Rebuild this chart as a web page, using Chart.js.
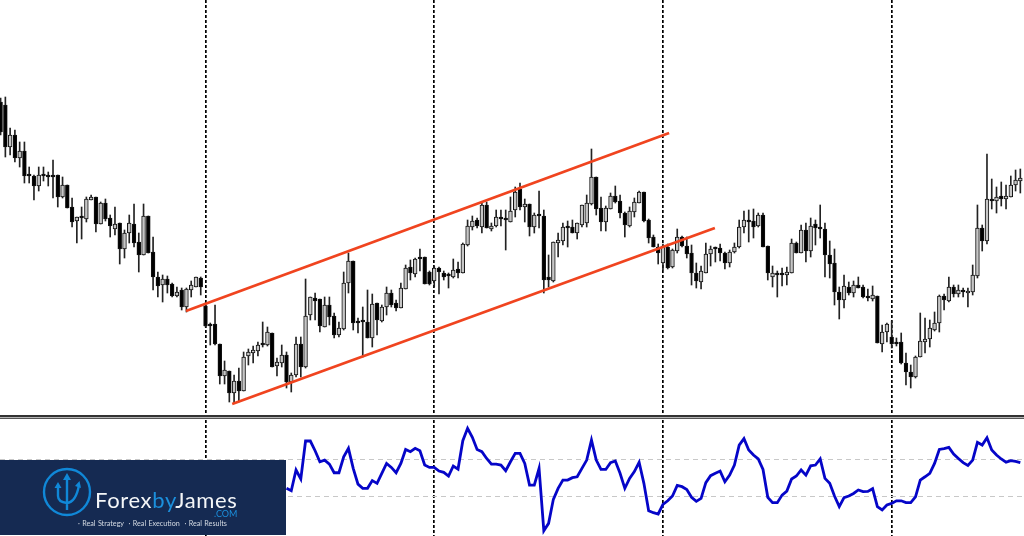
<!DOCTYPE html>
<html>
<head>
<meta charset="utf-8">
<title>ForexbyJames channel</title>
<script src="https://cdn.jsdelivr.net/npm/chart.js@4"></script>
<style>
  html, body { margin: 0; padding: 0; background: #fff; }
  #wrap { position: relative; width: 1024px; height: 536px; overflow: hidden; }
  #priceChart { position: absolute; left: 0; top: 0; filter: blur(0.6px); }
  .divider { position: absolute; left: 0; width: 1024px; }
  #logo { position: absolute; left: 0; top: 460px; width: 286px; height: 75px; background: #152a52; font-family: Lato, sans-serif; filter: blur(0.25px); }
  #logo svg { position: absolute; left: 0; top: 0; }
  #brand { position: absolute; left: 95px; top: 27px; font-size: 22px; line-height: 26px; color: #f4f6f8; letter-spacing: 0.65px; white-space: nowrap; }
  #brand span { color: #1b8fdc; }
  #dotcom { position: absolute; left: 214px; top: 49px; font-size: 9px; line-height: 10px; color: #1b8fdc; }
  #tag { position: absolute; left: 78px; top: 59px; font-size: 7.2px; line-height: 9px; color: #d5dbe3; white-space: nowrap; word-spacing: 0.5px; }
</style>
</head>
<body>
<div id="wrap">
  <canvas id="priceChart" width="1024" height="536"></canvas>
  <div class="divider" style="top:415px;height:4px;background:#b5b5b5"></div>
  <div class="divider" style="top:415px;height:1.5px;background:#333"></div>
  <div class="divider" style="top:418px;height:1.2px;background:#555"></div>
  <div id="logo">
    <svg width="130" height="75" viewBox="0 0 130 75" fill="none" stroke="#1088d8">
      <circle cx="67" cy="32" r="23" stroke-width="2.4"/>
      <path d="M67 17V50M58 27V36Q58 42 67 43Q76 42 79 25" stroke-width="2.4"/>
      <path d="M67 13L63 20H71ZM58 22L54.5 28H61.5ZM79.5 21L75 26L81 28Z" fill="#1088d8" stroke="none"/>
    </svg>
    <div id="brand">Forex<span>by</span>James</div>
    <div id="dotcom">.COM</div>
    <div id="tag">· Real Strategy &nbsp;· Real Execution &nbsp;· Real Results</div>
  </div>
</div>
<script>
// price in points, one entry per 30 min bar
var opens = [
  318,315,273,285,262,269,245,244,234,245,
  245,244,245,223,235,213,199,204,201,220,
  223,196,217,202,191,197,171,187,196,178,
  165,204,168,143,135,141,136,124,130,113,
  130,133,142,114,96,96,76,44,49,27,
  39,29,64,67,69,77,75,87,54,57,
  65,38,45,76,53,105,122,121,93,115,
  104,85,91,137,159,99,99,98,82,117,
  99,113,127,117,112,131,153,146,162,163,
  148,139,152,147,145,143,151,147,175,193,
  200,193,215,191,194,202,201,198,210,231,
  213,216,193,205,204,143,139,177,179,193,
  193,187,195,197,216,243,212,198,211,224,
  219,207,194,208,217,228,200,183,173,157,
  173,153,169,183,174,167,147,138,147,166,
  172,172,167,157,168,173,193,200,199,194,
  205,174,143,147,146,145,147,177,167,190,
  169,196,192,191,165,157,128,120,133,127,
  135,133,123,121,124,76,88,83,77,78,
  57,48,43,63,78,81,90,97,124,119,
  133,126,130,127,128,144,192,179,221,219,
  224,221,223,235,239
];
var highs = [
  322,323,292,290,278,278,253,245,253,253,
  248,260,245,243,235,222,203,213,223,225,
  223,218,221,205,213,197,190,205,216,187,
  216,204,183,148,145,144,137,133,132,132,
  139,143,143,117,97,115,76,59,49,45,
  52,68,71,74,78,98,93,87,62,75,
  68,47,83,83,141,123,127,121,123,123,
  107,98,148,167,159,102,113,130,126,117,
  115,133,130,120,137,155,160,162,171,163,
  149,154,153,149,147,161,158,177,200,204,
  202,217,218,197,210,210,210,223,233,237,
  221,216,207,229,210,165,178,187,197,199,
  200,197,215,225,271,243,223,214,227,234,
  225,208,213,222,229,228,201,185,176,176,
  176,171,191,184,183,175,157,154,177,174,
  173,176,168,170,177,200,209,210,211,207,
  207,174,154,149,152,153,181,178,195,197,
  202,200,215,197,179,171,133,145,138,139,
  143,135,131,134,124,95,97,99,82,87,
  67,55,64,107,102,100,108,125,126,143,
  135,135,132,132,155,215,195,266,241,233,
  238,235,244,250,251
];
var lows = [
  285,263,265,258,253,237,237,220,229,239,
  234,222,213,222,212,193,177,181,198,220,
  188,196,199,183,185,156,162,177,173,148,
  165,167,130,123,118,127,123,123,110,108,
  123,133,125,93,75,75,36,36,18,17,
  18,29,55,57,64,73,74,53,44,53,
  32,28,43,43,52,100,100,88,93,95,
  82,83,90,127,90,87,63,82,73,85,
  98,105,113,109,112,131,140,143,149,136,
  135,133,126,140,132,142,142,147,174,190,
  192,187,192,189,193,194,170,198,203,210,
  198,184,187,192,127,133,138,163,175,173,
  187,181,193,193,215,205,189,189,211,217,
  202,183,193,203,217,198,177,173,156,150,
  151,152,167,173,162,135,132,131,147,154,
  158,159,151,153,167,172,187,178,182,193,
  173,140,133,123,134,135,147,167,167,158,
  163,175,182,143,142,115,101,112,125,123,
  132,122,119,119,77,68,78,72,74,56,
  35,32,42,63,67,73,89,88,110,118,
  123,123,123,113,125,142,169,176,211,207,
  214,211,223,229,227
];
var closes = [
  288,273,285,262,269,244,244,234,245,244,
  243,243,223,235,212,198,203,202,221,223,
  196,217,201,194,196,171,187,197,177,165,
  204,167,143,134,141,135,124,128,113,131,
  135,143,133,94,94,76,44,50,27,39,
  29,63,68,70,75,75,88,53,58,65,
  38,45,76,53,104,123,119,94,115,103,
  85,92,137,159,97,97,98,82,116,100,
  113,127,115,112,132,152,147,161,161,136,
  136,152,148,143,144,150,147,176,194,199,
  194,215,192,194,203,201,200,209,228,213,
  216,193,205,204,140,140,178,180,193,192,
  187,197,215,217,243,211,198,212,224,218,
  207,195,209,218,228,199,182,173,167,174,
  152,170,183,174,166,147,139,149,166,171,
  171,167,157,168,173,193,200,198,193,205,
  173,147,147,145,145,148,177,167,190,169,
  194,192,191,165,156,128,120,134,127,135,
  132,123,122,125,77,88,96,76,76,57,
  48,43,63,79,81,92,97,124,120,133,
  126,130,128,129,145,192,179,221,219,223,
  221,224,235,240,242
];

// lower pane oscillator, first visible bar is 60 (the rest sits behind the logo)
var cciFirstBar = 60;
var cciValues = [
  -58,-71,42,-7,200,200,147,87,96,74,
  27,27,114,160,51,-35,-58,-58,-16,-31,
  24,78,56,27,78,154,142,160,147,69,
  56,56,36,29,9,64,47,202,269,220,
  154,142,105,74,74,69,38,87,133,133,
  78,-40,-40,51,-289,-249,-118,-58,-13,-13,
  0,5,51,96,205,96,45,45,82,91,
  24,-58,-4,33,84,-31,-180,-191,-198,-146,
  -126,-100,-42,-49,-64,-107,-129,-113,-27,11,
  24,36,-22,14,69,178,213,151,124,102,
  45,-107,-136,-136,-95,-73,-7,9,42,14,
  65,69,102,-4,-31,-100,-158,-109,-100,-86,
  -67,-76,-75,-60,-158,-176,-149,-140,-126,-126,
  -136,-136,-104,-13,5,24,78,154,158,165,
  129,105,82,67,96,193,178,218,151,124,
  102,85,93,89,82
];
var cciLevels = [100, -100];

// day separators, by bar number
var separatorBars = [43, 91, 139, 187];

// channel drawn on the chart
var upperChannelBars = [38.9, 140.3];
var upperChannelPrices = [109, 287];
var lowerChannelBars = [48.6, 149.9];
var lowerChannelPrices = [16, 192];

function zipPoints(xs, ys) {
  var pts = [];
  for (var i = 0; i < xs.length; i++) {
    pts.push({ x: xs[i], y: ys[i] });
  }
  return pts;
}

var wicks = [];
var bodies = [];
var bodyColors = [];
for (var i = 0; i < opens.length; i++) {
  wicks.push({ x: i, y: [lows[i], highs[i]] });
  bodies.push({ x: i, y: [Math.min(opens[i], closes[i]), Math.max(opens[i], closes[i])] });
  bodyColors.push(closes[i] >= opens[i] ? '#c6c6c6' : '#000000');
}

var cciPoints = [];
for (var j = 0; j < cciValues.length; j++) {
  cciPoints.push({ x: cciFirstBar + j, y: cciValues[j] });
}

var ctx = document.getElementById('priceChart');
var priceChart = new Chart(ctx, {
  type: 'bar',
  data: {
    datasets: [
      {
        type: 'line',
        data: zipPoints(upperChannelBars, upperChannelPrices),
        borderColor: '#f0441f',
        borderWidth: 2.8,
        pointRadius: 0,
        yAxisID: 'y',
        order: 0
      },
      {
        type: 'line',
        data: zipPoints(lowerChannelBars, lowerChannelPrices),
        borderColor: '#f0441f',
        borderWidth: 2.8,
        pointRadius: 0,
        yAxisID: 'y',
        order: 0
      },
      {
        type: 'line',
        data: cciPoints,
        borderColor: '#0505c8',
        borderWidth: 2.8,
        pointRadius: 0,
        tension: 0,
        yAxisID: 'y2',
        order: 0
      },
      {
        data: bodies,
        backgroundColor: bodyColors,
        borderColor: '#111111',
        borderWidth: 1,
        borderSkipped: false,
        barThickness: 3.8,
        minBarLength: 2,
        grouped: false,
        yAxisID: 'y',
        order: 1
      },
      {
        data: wicks,
        backgroundColor: '#222222',
        barThickness: 1,
        grouped: false,
        yAxisID: 'y',
        order: 2
      }
    ]
  },
  options: {
    responsive: false,
    animation: false,
    layout: { padding: 0, autoPadding: false },
    plugins: {
      legend: { display: false },
      tooltip: { enabled: false }
    },
    scales: {
      x: {
        type: 'linear',
        offset: false,
        min: -0.126,
        max: 214.77,
        afterBuildTicks: function(scale) {
          scale.ticks = separatorBars.map(function(b) { return { value: b }; });
        },
        ticks: { display: false },
        border: { display: false, dash: [3, 2] },
        grid: { offset: false, color: '#000000', lineWidth: 1.7, drawTicks: false }
      },
      // the stack fills from the bottom, so the oscillator pane is listed first
      y2: {
        stack: 'panes',
        stackWeight: 119,
        min: -318,
        max: 331,
        afterBuildTicks: function(scale) {
          scale.ticks = cciLevels.map(function(v) { return { value: v }; });
        },
        ticks: { display: false },
        border: { display: false, dash: [5, 4] },
        grid: { color: '#c8c8c8', lineWidth: 1, drawTicks: false }
      },
      y: {
        stack: 'panes',
        stackWeight: 417,
        min: 3,
        max: 420,
        ticks: { display: false },
        border: { display: false },
        grid: { display: false, drawTicks: false }
      }
    }
  }
});
</script>
</body>
</html>
